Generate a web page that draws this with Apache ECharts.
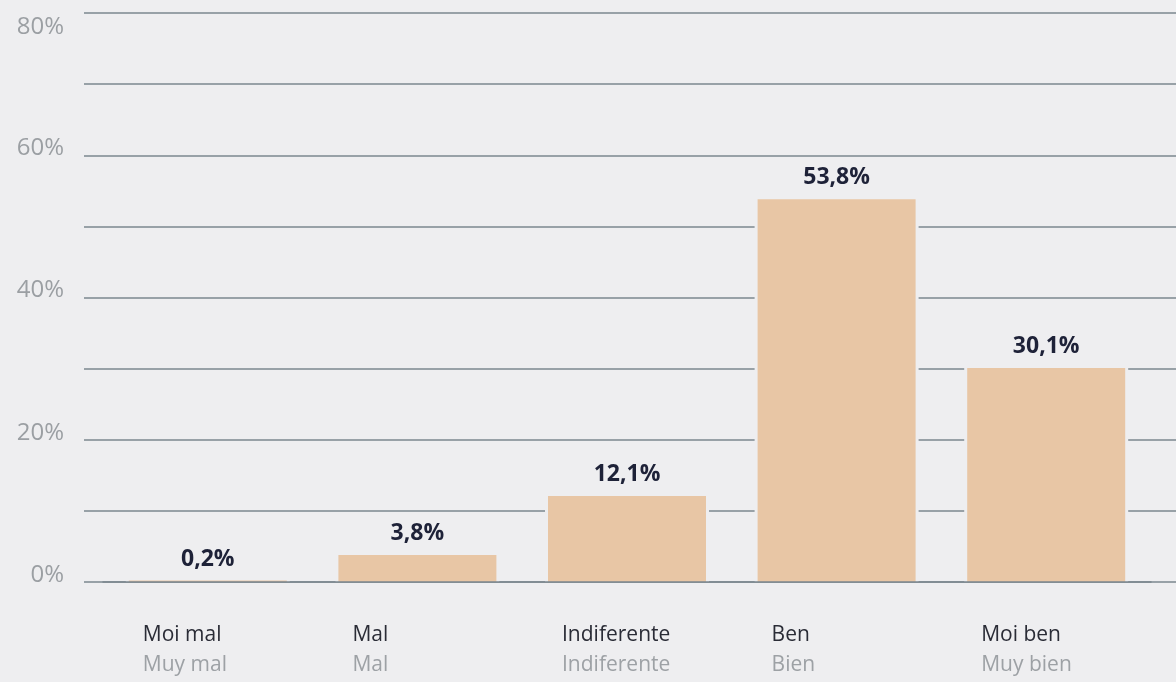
<!DOCTYPE html>
<html>
<head>
<meta charset="utf-8">
<script src="https://cdn.jsdelivr.net/npm/echarts@6/dist/echarts.min.js"></script>
<style>
html,body{margin:0;padding:0;background:#eeeef0;}
#chart{width:1176px;height:682px;}
</style>
</head>
<body>
<div id="chart"></div>
<script>
// galician / spanish labels
const categories = ['Moi mal', 'Mal', 'Indiferente', 'Ben', 'Moi ben'];
const categoriesEs = ['Muy mal', 'Mal', 'Indiferente', 'Bien', 'Muy bien'];
const values = [0.2, 3.8, 12.1, 53.8, 30.1];
const yLabelValues = [0, 20, 40, 60, 80];

const font = '"Open Sans", "Noto Sans", sans-serif';
const bg = '#eeeef0';
const gridColor = '#7b878f';

let chart = echarts.init(document.getElementById('chart'));

chart.setOption({
    backgroundColor: bg,
    animation: false,
    grid: [
        {left: 84, right: 0, top: 13, bottom: 100},
        {left: 103, right: 25, top: 13, bottom: 100}
    ],
    xAxis: [
        {gridIndex: 0, type: 'value', min: 0, max: 1, show: false},
        {
            gridIndex: 1,
            type: 'category',
            data: categories,
            z: 10,
            axisTick: {show: false},
            axisLine: {show: true, lineStyle: {color: gridColor, width: 1.5}},
            axisLabel: {
                margin: 38,
                align: 'center',
                formatter: (v, i) => '{a|' + v + '}\n{b|' + categoriesEs[i] + '}',
                rich: {
                    a: {fontFamily: font, fontSize: 21, color: '#2a2c36', lineHeight: 30, align: 'left', width: 130},
                    b: {fontFamily: font, fontSize: 21, color: '#9da1a5', lineHeight: 30, align: 'left', width: 130}
                }
            }
        },
        {gridIndex: 1, type: 'category', data: categories, show: false}
    ],
    yAxis: [
        {
            gridIndex: 0,
            type: 'value',
            min: 0,
            max: 80,
            interval: 10,
            axisLine: {show: false},
            axisTick: {show: false},
            splitLine: {lineStyle: {color: gridColor, width: 1.5}},
            axisLabel: {
                margin: 20,
                verticalAlign: 'middle',
                formatter: v => {
                    if (!yLabelValues.includes(v)) return '';
                    return v === 80 ? '{t|' + v + '%}' : '{n|' + v + '%}';
                },
                rich: {
                    n: {fontFamily: font, fontSize: 24, color: '#9b9fa3', padding: [0, 0, 14, 0]},
                    t: {fontFamily: font, fontSize: 24, color: '#9b9fa3', padding: [28, 0, 0, 0]}
                }
            }
        },
        {gridIndex: 1, type: 'value', min: 0, max: 80, interval: 10, show: false}
    ],
    series: [
        {
            // thin gap between gridlines and bars
            type: 'bar',
            xAxisIndex: 2,
            yAxisIndex: 1,
            data: values,
            barWidth: 164,
            itemStyle: {color: bg},
            silent: true,
            z: 1
        },
        {
            type: 'bar',
            xAxisIndex: 1,
            yAxisIndex: 1,
            data: values,
            barWidth: 158,
            itemStyle: {color: '#e8c6a5'},
            z: 2,
            label: {
                show: true,
                position: 'top',
                distance: 10,
                fontFamily: font,
                fontWeight: 'bold',
                fontSize: 23,
                color: '#1e2238',
                formatter: p => p.value.toFixed(1).replace('.', ',') + '%'
            }
        }
    ]
});
</script>
</body>
</html>
